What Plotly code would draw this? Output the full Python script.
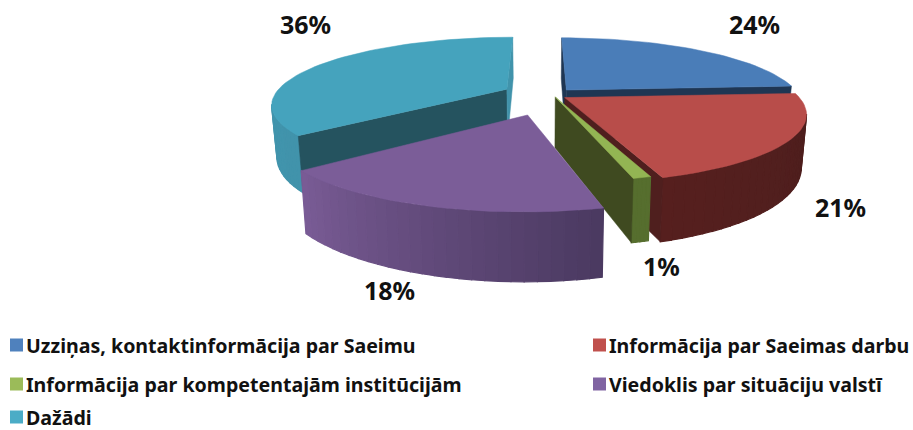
import math
import numpy as np
import plotly.graph_objects as go

categories = ["Uzziņas, kontaktinformācija par Saeimu", "Informācija par Saeimas darbu",
              "Informācija par kompetentajām institūcijām", "Viedoklis par situāciju valstī", "Dažādi"]
values = [24, 21, 1, 18, 36]

swatch_colors = ["#4F81BD", "#C0504D", "#9BBB59", "#8064A2", "#4BACC6"]
top_colors = ["#4A7DB8", "#B84D4A", "#93B553", "#7B5D98", "#45A3BD"]
end_side_colors = ["#1F3653", "#4F1F1E", "#3F4A20", "#4D3A60", "#4193AB"]
start_side_colors = ["#1F3653", "#4F1F1E", "#3F4A20", "#4D3A60", "#25535F"]
wall_start = ["#2A4A70", "#4A1E1D", "#566E2E", "#4A3960", "#4193AB"]
wall_end = ["#2A4A70", "#561F1E", "#566E2E", "#7A5C96", "#4499B2"]
# per-slice explosion of the pie, in units of the radius (sideways, towards viewer)
explode_x = [0.115, 0.105, 0.065, -0.05, -0.145]
explode_z = [-0.216, -0.10, -0.11, 0.147, -0.23]
label_pos = [(754, 24), (840, 207), (661, 266), (389, 290), (305, 24)]
legend_pos = [(10, 345), (593, 345), (10, 384), (593, 384), (10, 417)]

XC, R, YC, H, D, DEPTH, BF = 540, 240, -207, 311.4, 4.47, 52, 0.98


def proj(X, Z, bottom=False):
    s = D / (D - Z)
    if bottom:
        return XC + X * R * s * BF, YC + H * s + DEPTH * s
    return XC + X * R * s, YC + H * s


def rgb(h):
    return [int(h[i:i + 2], 16) for i in (1, 3, 5)]


def mix(a, b, t):
    ca, cb = rgb(a), rgb(b)
    return "rgb(" + ",".join(str(round(ca[i] + (cb[i] - ca[i]) * t)) for i in range(3)) + ")"


fig = go.Figure()


def poly(pts, color, width=1.2):
    xs = [p[0] for p in pts] + [pts[0][0]]
    ys = [p[1] for p in pts] + [pts[0][1]]
    fig.add_trace(go.Scatter(x=xs, y=ys, mode="lines", fill="toself", fillcolor=color,
                             line=dict(color=color, width=width), hoverinfo="skip", showlegend=False))


def wedge_edge(i, a):
    return explode_x[i] + math.sin(a), explode_z[i] - math.cos(a)


total = sum(values)
starts = np.cumsum([0] + values[:-1]) / total * 2 * math.pi
ends = np.cumsum(values) / total * 2 * math.pi

for i in [4, 0, 1, 2, 3]:
    a0, a1 = starts[i], ends[i]
    ex, ez = explode_x[i], explode_z[i]
    n = max(4, int(values[i] * 1.5))
    angs = [a0 + (a1 - a0) * k / n for k in range(n + 1)]
    # outer wall, only where it faces the viewer
    for k in range(n):
        am = (angs[k] + angs[k + 1]) / 2
        px, pz = wedge_edge(i, am)
        if (0 - px) * math.sin(am) + (D - pz) * (-math.cos(am)) <= 0:
            continue
        p, q = wedge_edge(i, angs[k]), wedge_edge(i, angs[k + 1])
        poly([proj(*p), proj(*q), proj(*q, True), proj(*p, True)],
             mix(wall_start[i], wall_end[i], (k + 0.5) / n))
    # straight walls, only where they face the viewer
    c = (ex, ez)
    for a, sign, col in ((a0, -1, start_side_colors[i]), (a1, 1, end_side_colors[i])):
        nx, nz = sign * math.cos(a), sign * math.sin(a)
        if (0 - ex) * nx + (D - ez) * nz <= 0:
            continue
        e = wedge_edge(i, a)
        poly([proj(*c), proj(*e), proj(*e, True), proj(*c, True)], col, 0.5)
    # top
    poly([proj(*c)] + [proj(*wedge_edge(i, a)) for a in angs], top_colors[i], 0.5)

annotations = []
for v, (x, y) in zip(values, label_pos):
    annotations.append(dict(x=x, y=y, text=f"<b>{v}%</b>", showarrow=False, xanchor="center", yanchor="middle",
                            font=dict(family="Noto Sans", size=25, color="#111111")))
for name, (x, y), col in zip(categories, legend_pos, swatch_colors):
    fig.add_trace(go.Scatter(x=[x + 6.5], y=[y], mode="markers", hoverinfo="skip", showlegend=False,
                             marker=dict(symbol="square", size=13, color=col)))
    annotations.append(dict(x=x + 14, y=y, text=f"<b>{name}</b>", showarrow=False, xanchor="left", yanchor="middle",
                            font=dict(family="Noto Sans", size=19.6, color="#111111")))

fig.update_layout(width=913, height=430, margin=dict(l=0, r=0, t=0, b=0), autosize=False,
                  paper_bgcolor="white", plot_bgcolor="white", showlegend=False, annotations=annotations,
                  xaxis=dict(range=[0, 913], visible=False, fixedrange=True),
                  yaxis=dict(range=[430, 0], visible=False, fixedrange=True))
fig.write_html("out.html", config=dict(displayModeBar=False),
               post_script="document.body.style.margin='0';document.body.style.overflow='hidden';")
